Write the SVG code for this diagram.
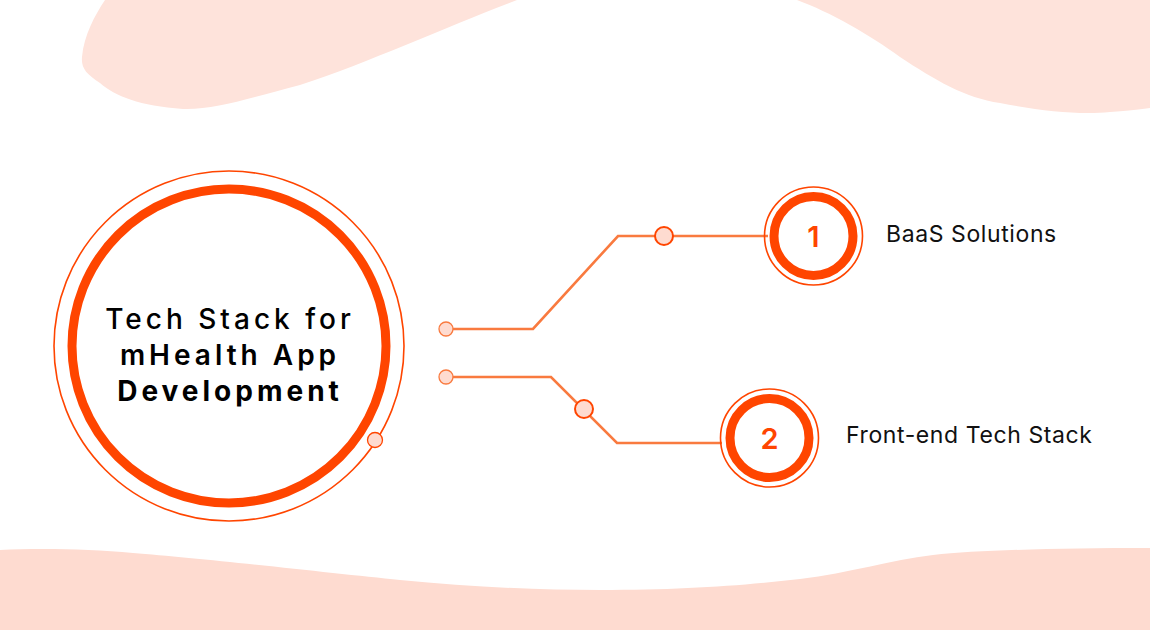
<svg xmlns="http://www.w3.org/2000/svg" width="1150" height="630" viewBox="0 0 1150 630">
<style>
.blob{fill:#FEE3DB}
.wave{fill:#FEDBD0}
.ring-thin{fill:none;stroke:#FF4500;stroke-width:1.6}
.ring-thick{fill:#fff;stroke:#FF4500;stroke-width:9}
.conn{fill:none;stroke:#F97A3F;stroke-width:2.6;stroke-linejoin:miter}
.dot-s{fill:#FEDBD0;stroke:#F97A3F;stroke-width:1.3}
.dot-m{fill:#FEDBD0;stroke:#FF4500;stroke-width:2}
.title{font-family:Inter,"Liberation Sans",sans-serif;font-size:28px;fill:#000;text-anchor:middle;letter-spacing:4px}
.num{font-family:Inter,"Liberation Sans",sans-serif;font-size:29px;font-weight:600;fill:#FF4500;text-anchor:middle}
.label{font-family:Inter,"Liberation Sans",sans-serif;font-size:23px;fill:#111;letter-spacing:0.6px}
</style>
<g id="background">
<path class="blob" d="M105,0 C95,15 84,35 82,57 C81,68 86,74 100,83 C115,96 140,106 183,109 C215,110 250,98 300,85 C370,62 450,25 517,0 Z"/>
<path class="blob" d="M797,0 C830,12 870,35 900,57 C935,80 965,98 1000,103 C1040,111 1080,115 1110,112 C1130,111 1140,109 1150,108 L1150,0 Z"/>
<path class="wave" d="M0,550 C40,548 90,549 133,553 C200,558 330,573 400,580 C470,587 540,590 600,590 C680,590 740,586 800,579 C850,573 890,560 933,555 C980,550 1060,548 1150,548 L1150,630 L0,630 Z"/>
</g>
<g id="connectors">
<polyline class="conn" points="446,329 533,329 618,236 768,236"/>
<polyline class="conn" points="446,377 551,377 617,443 722,443"/>
<circle class="dot-s" cx="446" cy="329" r="7"/>
<circle class="dot-s" cx="446" cy="377" r="7"/>
<circle class="dot-m" cx="664" cy="236" r="9"/>
<circle class="dot-m" cx="584" cy="409" r="9"/>
</g>
<g id="main">
<circle class="ring-thin" cx="229" cy="346" r="175"/>
<circle class="ring-thick" cx="229" cy="346" r="157"/>
<circle class="dot-s" cx="375" cy="440" r="7.5" style="stroke:#FF4500"/>
<text class="title" x="230" y="329" font-weight="500">Tech Stack for</text>
<text class="title" x="230" y="365" font-weight="600">mHealth App</text>
<text class="title" x="230" y="401" font-weight="700">Development</text>
</g>
<g id="node1">
<circle class="ring-thin" cx="813.5" cy="236" r="49"/>
<circle class="ring-thick" cx="813.5" cy="236" r="39.5"/>
<text class="num" x="813.5" y="247">1</text>
<text class="label" x="886" y="242">BaaS Solutions</text>
</g>
<g id="node2">
<circle class="ring-thin" cx="769.5" cy="438" r="49"/>
<circle class="ring-thick" cx="769.5" cy="438" r="39.5"/>
<text class="num" x="769.5" y="449">2</text>
<text class="label" x="846" y="443">Front-end Tech Stack</text>
</g>
</svg>
